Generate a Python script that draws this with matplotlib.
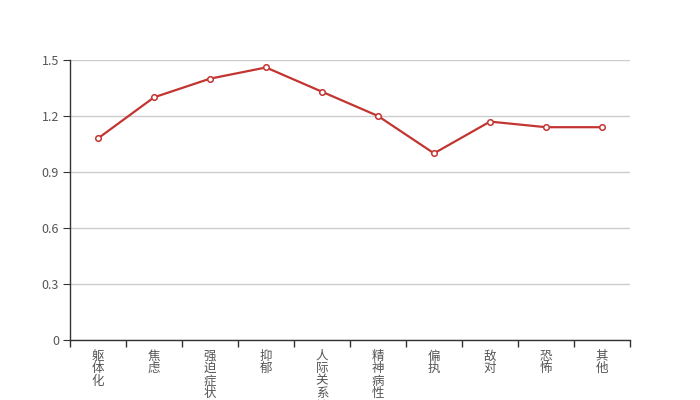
import matplotlib.pyplot as plt

plt.rcParams['font.family'] = ['Noto Sans CJK SC', 'DejaVu Sans']

categories = ["躯体化", "焦虑", "强迫症状", "抑郁", "人际关系敏感",
              "精神病性", "偏执", "敌对", "恐怖", "其他"]
values = [1.08, 1.30, 1.40, 1.46, 1.33, 1.20, 1.00, 1.17, 1.14, 1.14]
yticks = [0, 0.3, 0.6, 0.9, 1.2, 1.5]

fig = plt.figure(figsize=(7, 4), dpi=100)
ax = fig.add_axes([0.1, 0.15, 0.8, 0.7])

x = list(range(len(categories)))
ax.plot(x, values, "-o", color="#c23531", linewidth=1.6, markersize=4,
        markerfacecolor="white", markeredgecolor="#c23531", markeredgewidth=1.1,
        zorder=3)

ax.set_xlim(-0.5, len(categories) - 0.5)
ax.set_ylim(0, 1.5)
ax.set_yticks(yticks)
ax.set_yticklabels(["0", "0.3", "0.6", "0.9", "1.2", "1.5"])
ax.yaxis.grid(True, color="#cccccc", linewidth=1)
ax.set_axisbelow(True)

# category labels vertical, boundary ticks between categories
ax.set_xticks([i - 0.5 for i in range(len(categories) + 1)])
ax.set_xticklabels([])
ax.set_xticks(x, minor=True)
ax.set_xticklabels(["\n".join(c) for c in categories], minor=True,
                   linespacing=0.95, va="top")
ax.tick_params(axis="x", which="minor", length=0, pad=7, labelsize=9,
               labelcolor="#555555")
ax.tick_params(axis="x", which="major", length=5, color="#333333", width=1)
ax.tick_params(axis="y", length=5, color="#333333", labelsize=9,
               labelcolor="#555555", pad=3)

for s in ["top", "right"]:
    ax.spines[s].set_visible(False)
for s in ["left", "bottom"]:
    ax.spines[s].set_color("#333333")
    ax.spines[s].set_linewidth(1)

fig.savefig("out.png", dpi=100)
